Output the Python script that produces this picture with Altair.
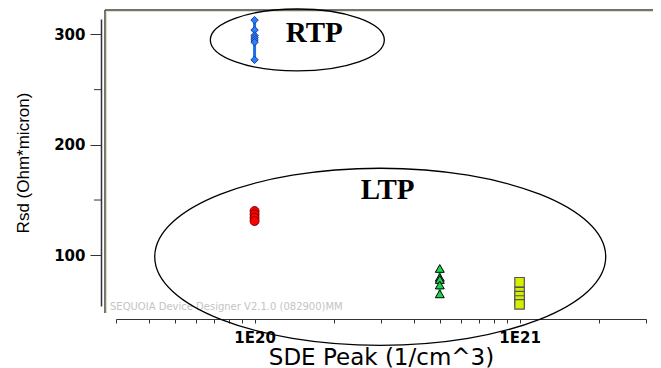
import altair as alt
import pandas as pd

# ---- data ----
rtp_x = 1e20
rtp_y = [313, 304, 299, 297, 295, 293, 277]
red_x = 1e20
red_y = [140, 137, 134, 131]
green_x = 5e20
green_y = [88, 80, 78, 73, 65]
yellow_x = 1e21
yellow_y = [75.5, 66.5, 63, 59, 55.5]

x_ticks = [3e19, 4e19, 5e19, 6e19, 7e19, 8e19, 9e19, 1e20,
           2e20, 3e20, 4e20, 5e20, 6e20, 7e20, 8e20, 9e20, 1e21, 2e21, 3e21]
y_major = [100, 200, 300]
y_minor = [150, 250]
x_domain = [3e19, 3e21]
y_domain = [54, 314]

group_names = ["RTP", "LTP"]
ellipse_cx = [1.45e20, 2.98e20]
ellipse_cy = [295, 98.6]
label_cx = [1.68e20, 3.18e20]
label_cy = [301, 159]

watermark = "SEQUOIA Device Designer V2.1.0 (082900)MM"
x_title = "SDE Peak (1/cm^3)"
y_title = "Rsd (Ohm*micron)"

W, H = 530, 287


def ellipse_path(r):
    k = 0.5523
    return (f"M -1 0 C -1 {-k*r:.4f} {-k:.4f} {-r:.4f} 0 {-r:.4f} "
            f"C {k:.4f} {-r:.4f} 1 {-k*r:.4f} 1 0 "
            f"C 1 {k*r:.4f} {k:.4f} {r:.4f} 0 {r:.4f} "
            f"C {-k:.4f} {r:.4f} -1 {k*r:.4f} -1 0 Z")


xs = alt.Scale(type="log", domain=x_domain, nice=False)
ys = alt.Scale(domain=y_domain, nice=False, zero=False)

x_axis = alt.Axis(
    values=x_ticks,
    labelExpr="datum.value == 1e20 ? '1E20' : (datum.value == 1e21 ? '1E21' : '')",
    offset=13, tickSize=4, grid=False, labelOverlap=False, labelFlush=False,
    labelFont="DejaVu Sans", labelFontWeight="bold", labelFontSize=15, labelColor="black",
    labelPadding=7,
    title=x_title, titleFont="DejaVu Sans", titleFontSize=23, titleFontWeight="normal",
    titleColor="black", titlePadding=1,
    domainColor="#333", tickColor="#333", domainWidth=1.2,
)
y_axis = alt.Axis(
    values=y_major, offset=15, tickSize=11, grid=False,
    labelFont="DejaVu Sans", labelFontWeight="bold", labelFontSize=15, labelColor="black",
    labelPadding=5,
    title=y_title, titleFont="Liberation Sans", titleFontSize=17, titleFontWeight="normal",
    titleColor="black", titlePadding=21,
    domainColor="#333", tickColor="#333", domainWidth=1.5,
)

X = lambda: alt.X("x:Q", scale=xs, axis=x_axis)
Y = lambda: alt.Y("y:Q", scale=ys, axis=y_axis)

rtp_df = pd.DataFrame({"x": [rtp_x] * len(rtp_y), "y": rtp_y})
red_df = pd.DataFrame({"x": [red_x] * len(red_y), "y": red_y})
green_df = pd.DataFrame({"x": [green_x] * len(green_y), "y": green_y})
yellow_df = pd.DataFrame({"x": [yellow_x] * len(yellow_y), "y": yellow_y})

one = pd.DataFrame({"a": [0]})
frame_dark_v = alt.Chart(one).mark_rule(color="#444", strokeWidth=1.5).encode(
    x=alt.value(-11), y=alt.value(-9), y2=alt.value(294))
frame_dark_h = alt.Chart(one).mark_rule(color="#444", strokeWidth=1.5).encode(
    x=alt.value(-11), x2=alt.value(545), y=alt.value(-9))
frame_light_v = alt.Chart(one).mark_rule(color="#e4dfc2", strokeWidth=1.2).encode(
    x=alt.value(-9.5), y=alt.value(-7.5), y2=alt.value(294))
frame_light_h = alt.Chart(one).mark_rule(color="#e4dfc2", strokeWidth=1.2).encode(
    x=alt.value(-9.5), x2=alt.value(545), y=alt.value(-7.5))

minor_df = pd.DataFrame({"y": y_minor})
minor_ticks = alt.Chart(minor_df).mark_rule(color="#333", strokeWidth=1).encode(
    y=Y(), x=alt.value(-22), x2=alt.value(-15))

wm = alt.Chart(one).mark_text(
    text=watermark, align="left", baseline="middle", font="DejaVu Sans",
    fontSize=10, color="#c4c4c4").encode(x=alt.value(-6), y=alt.value(288))

rtp_line = alt.Chart(rtp_df).mark_line(color="#1f6fe8", strokeWidth=3).encode(
    x=X(), y=Y(), order="y:Q")
rtp_pts = alt.Chart(rtp_df).mark_point(
    shape="diamond", filled=True, size=55, fill="#2a7fff", stroke="#1b3f9a",
    strokeWidth=1, opacity=1).encode(x=X(), y=Y())

red_pts = alt.Chart(red_df).mark_point(
    shape="circle", filled=True, size=80, fill="#ff0000", stroke="#7a0000",
    strokeWidth=1, opacity=1).encode(x=X(), y=Y())

green_line = alt.Chart(green_df).mark_line(color="#00ff66", strokeWidth=3).encode(
    x=X(), y=Y(), order="y:Q")
green_pts = alt.Chart(green_df).mark_point(
    shape="triangle-up", filled=True, size=80, fill="#22d455", stroke="#000",
    strokeWidth=1, opacity=1).encode(x=X(), y=Y())

yellow_pts = alt.Chart(yellow_df).mark_point(
    shape="square", filled=True, size=90, fill="#d4f000", stroke="#555",
    strokeWidth=1.2, opacity=1).encode(x=X(), y=Y())

rtp_ell_df = pd.DataFrame({"x": [ellipse_cx[0]], "y": [ellipse_cy[0]]})
ltp_ell_df = pd.DataFrame({"x": [ellipse_cx[1]], "y": [ellipse_cy[1]]})
rtp_ell = alt.Chart(rtp_ell_df).mark_point(
    shape=ellipse_path(31 / 87), size=174 ** 2, filled=False, stroke="black",
    strokeWidth=1.3, opacity=1).encode(x=X(), y=Y())
ltp_ell = alt.Chart(ltp_ell_df).mark_point(
    shape=ellipse_path(88.5 / 225.5), size=451 ** 2, filled=False, stroke="black",
    strokeWidth=1.3, opacity=1).encode(x=X(), y=Y())

lab_df = pd.DataFrame({"x": label_cx, "y": label_cy, "t": group_names})
labels = alt.Chart(lab_df).mark_text(
    font="Liberation Serif", fontWeight="bold", fontSize=29, color="black",
    align="center", baseline="middle").encode(x=X(), y=Y(), text="t:N")

chart = alt.layer(
    frame_dark_v, frame_dark_h, frame_light_v, frame_light_h,
    minor_ticks, wm, ltp_ell, rtp_ell, labels,
    rtp_line, rtp_pts, red_pts, green_line, green_pts, yellow_pts,
).properties(
    width=W, height=H,
    autosize=alt.AutoSizeParams(type="none"),
    padding={"left": 108, "top": 11, "right": 7, "bottom": 62},
    background="white",
).configure_view(stroke=None)

chart.save("out.html", embed_options={"renderer": "svg", "actions": False})
